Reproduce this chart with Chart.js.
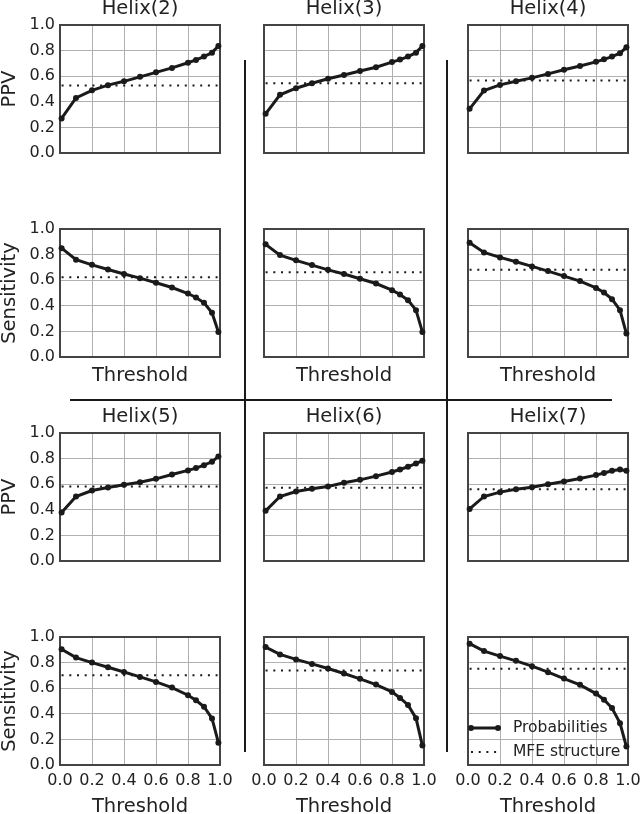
<!DOCTYPE html>
<html>
<head>
<meta charset="utf-8">
<script src="https://cdn.jsdelivr.net/npm/chart.js@4.4.1/dist/chart.umd.min.js"></script>
<style>
  html, body { margin: 0; padding: 0; background: #fff; overflow: hidden; }
  #page { position: relative; width: 640px; height: 814px; overflow: hidden; }
  #page canvas { position: absolute; }
  .sep { position: absolute; background: #1a1a1a; }
</style>
</head>
<body>
<div id="page"></div>
<script>
// thresholds used on the x axis
const thresholds = [0.01, 0.1, 0.2, 0.3, 0.4, 0.5, 0.6, 0.7, 0.8, 0.85, 0.9, 0.95, 0.99];
const helixNames = ['Helix(2)', 'Helix(3)', 'Helix(4)', 'Helix(5)', 'Helix(6)', 'Helix(7)'];
const axisTicks = [0.0, 0.2, 0.4, 0.6, 0.8, 1.0];

// PPV of the probability curves
const ppv2 = [0.27, 0.43, 0.49, 0.53, 0.56, 0.595, 0.63, 0.665, 0.705, 0.727, 0.753, 0.784, 0.836];
const ppv3 = [0.306, 0.455, 0.506, 0.545, 0.58, 0.61, 0.64, 0.67, 0.71, 0.73, 0.753, 0.784, 0.836];
const ppv4 = [0.345, 0.488, 0.532, 0.56, 0.587, 0.618, 0.65, 0.68, 0.712, 0.732, 0.753, 0.78, 0.826];
const ppv5 = [0.379, 0.504, 0.551, 0.574, 0.595, 0.616, 0.642, 0.676, 0.708, 0.726, 0.749, 0.775, 0.817];
const ppv6 = [0.392, 0.504, 0.543, 0.564, 0.582, 0.611, 0.634, 0.663, 0.695, 0.715, 0.736, 0.762, 0.783];
const ppv7 = [0.407, 0.504, 0.538, 0.561, 0.577, 0.6, 0.621, 0.645, 0.671, 0.687, 0.705, 0.715, 0.705];

// Sensitivity of the probability curves
const sens2 = [0.85, 0.76, 0.72, 0.684, 0.648, 0.616, 0.58, 0.543, 0.496, 0.465, 0.423, 0.345, 0.196];
const sens3 = [0.88, 0.796, 0.755, 0.718, 0.681, 0.648, 0.611, 0.574, 0.522, 0.488, 0.444, 0.366, 0.196];
const sens4 = [0.893, 0.817, 0.778, 0.744, 0.708, 0.671, 0.632, 0.593, 0.54, 0.504, 0.452, 0.366, 0.183];
const sens5 = [0.904, 0.839, 0.8, 0.764, 0.727, 0.688, 0.649, 0.605, 0.545, 0.506, 0.455, 0.364, 0.174];
const sens6 = [0.921, 0.864, 0.825, 0.79, 0.754, 0.715, 0.673, 0.628, 0.571, 0.524, 0.469, 0.366, 0.152];
const sens7 = [0.948, 0.89, 0.851, 0.814, 0.772, 0.725, 0.675, 0.626, 0.558, 0.51, 0.445, 0.327, 0.144];

// MFE structure reference levels
const mfePpv = [0.527, 0.545, 0.566, 0.582, 0.572, 0.561];
const mfeSens = [0.624, 0.663, 0.681, 0.701, 0.738, 0.751];

const FONT = 'DejaVu Sans';
const INK = '#1a1a1a';
const colLeft = [60, 264, 468];
const rowTop = [25, 229, 433, 637];
const plotW = 160, plotH = 128, yW = 60, topPad = 30;

const framePlugin = {
  id: 'frame',
  beforeDatasetsDraw(chart) {
    const { ctx, chartArea: a } = chart;
    ctx.save();
    ctx.strokeStyle = '#444';
    ctx.lineWidth = 2;
    ctx.strokeRect(a.left, a.top, a.right - a.left, a.bottom - a.top);
    ctx.restore();
  }
};

// legend drawn inside the plot area, like the original
const innerLegend = {
  id: 'innerLegend',
  afterDraw(chart, args, opts) {
    if (!opts.show) return;
    const { ctx, chartArea: a } = chart;
    const x0 = a.left + 3, len = 27, tx = a.left + 45;
    const rows = [a.bottom - 37, a.bottom - 13];
    ctx.save();
    chart.data.datasets.forEach((ds, i) => {
      const y = rows[i];
      ctx.strokeStyle = ds.borderColor;
      ctx.lineWidth = ds.borderWidth;
      ctx.setLineDash(ds.borderDash || []);
      ctx.beginPath();
      ctx.moveTo(x0, y);
      ctx.lineTo(x0 + len, y);
      ctx.stroke();
      ctx.setLineDash([]);
      if (ds.pointRadius > 0) {
        ctx.fillStyle = ds.borderColor;
        [x0, x0 + len].forEach(px => {
          ctx.beginPath();
          ctx.arc(px, y, ds.pointRadius, 0, Math.PI * 2);
          ctx.fill();
        });
      }
      ctx.fillStyle = '#222';
      ctx.font = '15.5px "' + FONT + '"';
      ctx.textBaseline = 'middle';
      ctx.textAlign = 'left';
      ctx.fillText(ds.label, tx, y);
    });
    ctx.restore();
  }
};

function makePanel(row, col) {
  const half = row < 2 ? 0 : 3;
  const k = half + col;
  const isPpv = row % 2 === 0;
  const values = isPpv ? [ppv2, ppv3, ppv4, ppv5, ppv6, ppv7][k] : [sens2, sens3, sens4, sens5, sens6, sens7][k];
  const mfe = isPpv ? mfePpv[k] : mfeSens[k];
  const showXTicks = row === 3;
  const showXTitle = !isPpv;
  const bottomH = row === 3 ? 52 : 48;
  const xTitlePad = row === 3 ? 0.75 : 19.25;

  const canvas = document.createElement('canvas');
  const w = yW + plotW + 20, h = topPad + plotH + bottomH;
  canvas.width = w;
  canvas.height = h;
  canvas.style.width = w + 'px';
  canvas.style.height = h + 'px';
  canvas.style.left = (colLeft[col] - yW) + 'px';
  canvas.style.top = (rowTop[row] - topPad) + 'px';
  document.getElementById('page').appendChild(canvas);

  const tickFont = { family: FONT, size: 16 };
  const labelFont = { family: FONT, size: 19.5, lineHeight: 1 };

  new Chart(canvas, {
    type: 'line',
    data: {
      datasets: [
        {
          label: 'Probabilities',
          data: thresholds.map((t, i) => ({ x: t, y: values[i] })),
          borderColor: INK,
          backgroundColor: INK,
          borderWidth: 3,
          pointRadius: 3,
          pointHoverRadius: 0,
          pointBorderWidth: 0,
          clip: false
        },
        {
          label: 'MFE structure',
          data: [{ x: thresholds[0], y: mfe }, { x: thresholds[thresholds.length - 1], y: mfe }],
          borderColor: INK,
          borderWidth: 2,
          borderDash: [2, 5.7],
          pointRadius: 0,
          clip: false
        }
      ]
    },
    options: {
      responsive: false,
      animation: false,
      events: [],
      layout: { padding: { left: 0, right: 20, top: isPpv ? 0 : topPad, bottom: 0 } },
      plugins: {
        legend: { display: false },
        tooltip: { enabled: false },
        title: {
          display: isPpv,
          text: helixNames[k],
          fullSize: false,
          color: '#222',
          font: { family: FONT, size: 19.5, weight: 'normal', lineHeight: 1.2 },
          padding: { top: 2, bottom: topPad - 19.5 * 1.2 - 2 }
        },
        innerLegend: { show: row === 3 && col === 2 }
      },
      scales: {
        x: {
          type: 'linear',
          min: 0,
          max: 1,
          afterBuildTicks: s => { s.ticks = axisTicks.map(v => ({ value: v })); },
          ticks: {
            display: showXTicks,
            padding: 6,
            color: '#222',
            font: tickFont,
            maxRotation: 0,
            callback: v => v.toFixed(1)
          },
          grid: { color: '#b0b0b0', lineWidth: 1, drawTicks: false },
          border: { display: false },
          title: {
            display: showXTitle,
            text: 'Threshold',
            color: '#222',
            font: labelFont,
            padding: { top: 0, bottom: xTitlePad }
          },
          afterFit: s => { s.height = bottomH; }
        },
        y: {
          min: 0,
          max: 1,
          afterBuildTicks: s => { s.ticks = axisTicks.map(v => ({ value: v })); },
          ticks: {
            display: col === 0,
            padding: 5,
            color: '#222',
            font: tickFont,
            callback: v => v.toFixed(1)
          },
          grid: { color: '#b0b0b0', lineWidth: 1, drawTicks: false },
          border: { display: false },
          title: {
            display: col === 0,
            text: isPpv ? 'PPV' : 'Sensitivity',
            color: '#222',
            font: labelFont,
            padding: { top: 0, bottom: 0 }
          },
          afterFit: s => { s.width = yW; }
        }
      }
    },
    plugins: [framePlugin, innerLegend]
  });
}

for (let r = 0; r < 4; r++) {
  for (let c = 0; c < 3; c++) makePanel(r, c);
}

// separators between the panel groups
function sep(left, top, width, height) {
  const d = document.createElement('div');
  d.className = 'sep';
  d.style.left = left + 'px';
  d.style.top = top + 'px';
  d.style.width = width + 'px';
  d.style.height = height + 'px';
  document.getElementById('page').appendChild(d);
}
sep(244, 60, 2, 340);
sep(446, 60, 2, 340);
sep(70, 399, 542, 2);
sep(244, 400, 2, 352);
sep(446, 400, 2, 352);
</script>
</body>
</html>
